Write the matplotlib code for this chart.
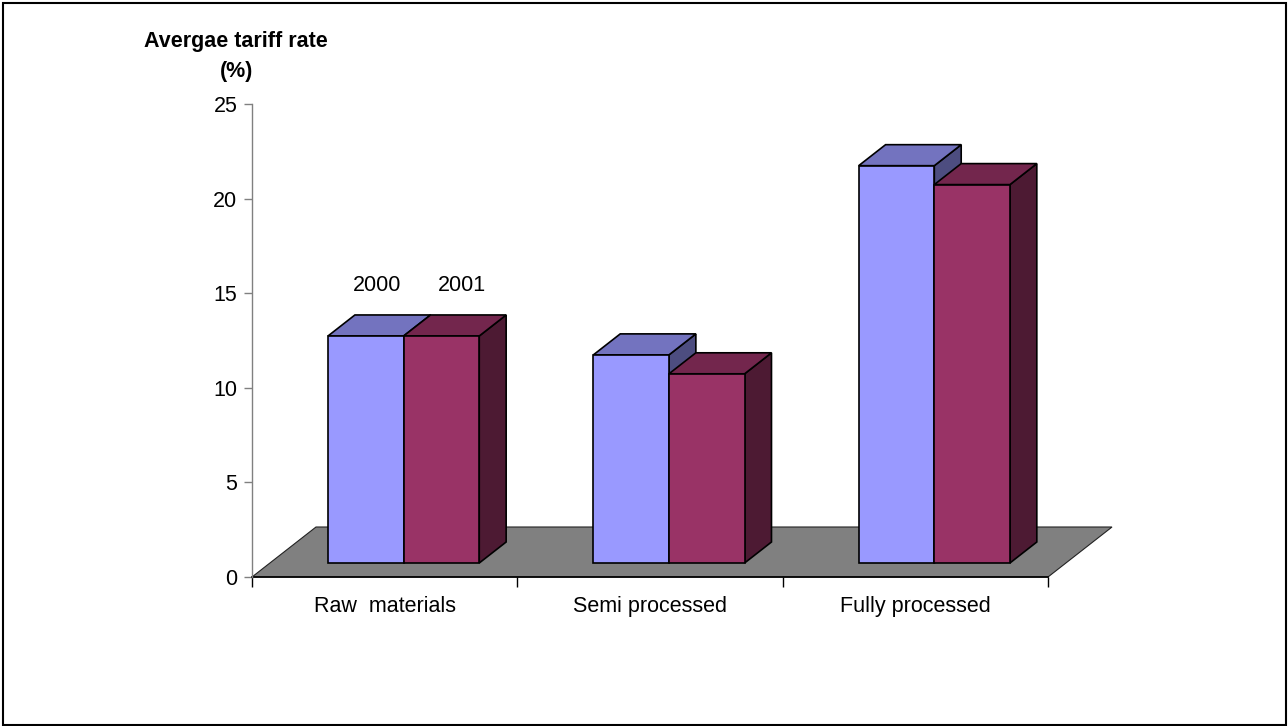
import matplotlib
matplotlib.use('Agg')
import matplotlib.pyplot as plt
from matplotlib.patches import Polygon, Rectangle

# data
categories = ['Raw  materials', 'Semi processed', 'Fully processed']
series = ['2000', '2001']
values_2000 = [12, 11, 21]
values_2001 = [12, 10, 20]
yticks = [0, 5, 10, 15, 20, 25]

# colours (front, top, side)
colors_2000 = ('#9999FF', '#7373BF', '#4D4D80')
colors_2001 = ('#993366', '#73264D', '#4D1A33')
floor_color = '#808080'

plt.rcParams['font.family'] = ['Liberation Sans', 'DejaVu Sans']
FS = 15.5

W, H = 1288, 726
fig = plt.figure(figsize=(W / 100, H / 100), dpi=100)

# plot area in pixels
ax_l, ax_r, ax_t, ax_b = 252, 1048, 104, 577
ax = fig.add_axes([ax_l / W, 1 - ax_b / H, (ax_r - ax_l) / W, (ax_b - ax_t) / H])
ax.set_xlim(0, len(categories))
ax.set_ylim(0, 25)
ax.patch.set_visible(False)

# oblique projection for the fake 3D
px_x = (ax_r - ax_l) / len(categories)
px_y = (ax_b - ax_t) / 25
dx = 64 / px_x
dy = 50 / px_y


def proj(x, y, z):
    return (x + z * dx, y + z * dy)


def poly(pts, fc, zorder):
    p = Polygon(pts, closed=True, facecolor=fc, edgecolor='black',
                linewidth=1.2, joinstyle='miter', clip_on=False, zorder=zorder)
    ax.add_patch(p)


# floor
n = len(categories)
floor = Polygon([proj(0, 0, 0), proj(n, 0, 0), proj(n, 0, 1), proj(0, 0, 1)],
                closed=True, facecolor=floor_color, edgecolor='#222222',
                linewidth=0.8, clip_on=False, zorder=1)
ax.add_patch(floor)

# bars
w = 0.285
z0, z1 = 0.28, 0.70
zo = 3
for i in range(n):
    for j, (vals, cols) in enumerate([(values_2000, colors_2000), (values_2001, colors_2001)]):
        v = vals[i]
        x0 = i + 0.5 - w + j * w + 0.004
        x1 = x0 + w
        front_c, top_c, side_c = cols
        poly([proj(x1, 0, z0), proj(x1, 0, z1), proj(x1, v, z1), proj(x1, v, z0)], side_c, zo)
        poly([proj(x0, v, z0), proj(x1, v, z0), proj(x1, v, z1), proj(x0, v, z1)], top_c, zo)
        poly([proj(x0, 0, z0), proj(x1, 0, z0), proj(x1, v, z0), proj(x0, v, z0)], front_c, zo)
        zo += 1

# series names above first group
label_x = [0.471, 0.791]
for name, lx in zip(series, label_x):
    ax.text(lx, 15.4, name, ha='center', va='center', fontsize=FS)

# axes styling
for s in ['top', 'right']:
    ax.spines[s].set_visible(False)
ax.spines['left'].set_color('#808080')
ax.spines['left'].set_linewidth(1.0)
ax.spines['bottom'].set_color('black')
ax.spines['bottom'].set_linewidth(1.2)
ax.spines['bottom'].set_zorder(2)

ax.set_yticks(yticks)
ax.tick_params(axis='y', direction='out', length=6, width=1, color='#808080',
               pad=4.5, labelsize=FS)
ax.set_xticks(range(n + 1))
ax.set_xticklabels([])
ax.tick_params(axis='x', which='major', direction='out', length=7.5, width=1, color='black')
ax.set_xticks([i + 0.5 for i in range(n)], minor=True)
ax.set_xticklabels(categories, minor=True)
ax.tick_params(axis='x', which='minor', length=0, pad=14, labelsize=FS)

# axis title
fig.text(236 / W, 1 - 47 / H, 'Avergae tariff rate', ha='center', va='baseline',
         fontsize=FS, fontweight='bold')
fig.text(237 / W, 1 - 77 / H, '(%)', ha='center', va='baseline',
         fontsize=FS, fontweight='bold')

# chart border
fig.patches.append(Rectangle((3 / W, 1 / H), (1286 - 3) / W, (724 - 2) / H,
                             transform=fig.transFigure, fill=False,
                             edgecolor='black', linewidth=1.5))

fig.savefig('out.png', dpi=100)
